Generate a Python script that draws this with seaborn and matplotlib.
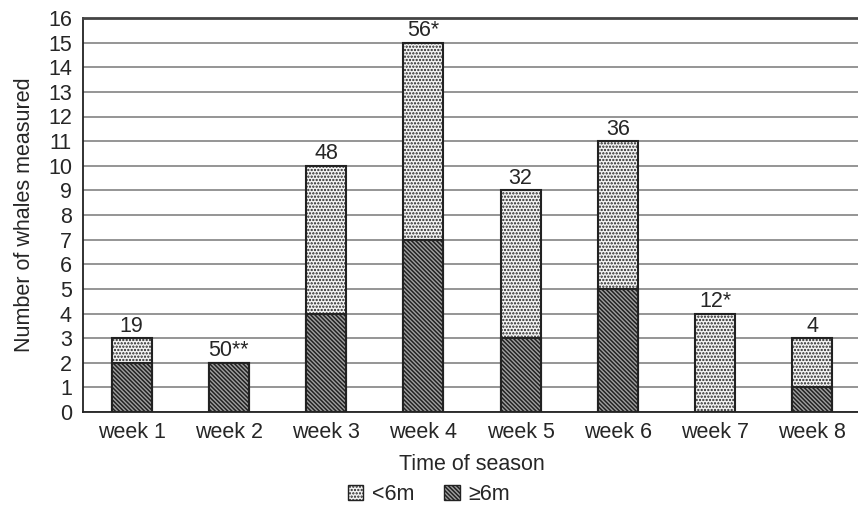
import seaborn as sns
import matplotlib.pyplot as plt
import matplotlib.patches as mpatches
import pandas as pd

weeks = ["week 1", "week 2", "week 3", "week 4", "week 5", "week 6", "week 7", "week 8"]
small = [1, 0, 6, 8, 6, 6, 4, 2]      # <6m
large = [2, 2, 4, 7, 3, 5, 0, 1]      # >=6m
bar_labels = ["19", "50**", "48", "56*", "32", "36", "12*", "4"]

df = pd.DataFrame({"week": weeks, "small": small, "large": large})
df["total"] = df["small"] + df["large"]

sns.set_style("white")
plt.rcParams["font.family"] = ["Liberation Sans", "DejaVu Sans"]
plt.rcParams["hatch.linewidth"] = 1.1

fs = 15.5
dots = "....."
lines = "\\\\\\\\\\\\\\\\"

fig = plt.figure(figsize=(8.58, 5.12), dpi=100)
ax = fig.add_axes([83 / 858, 1 - 412 / 512, 778 / 858, 394 / 512])

# full stack height drawn with the <6m pattern, >=6m drawn on top of it
sns.barplot(data=df, x="week", y="total", ax=ax, color="#f4f4f4",
            edgecolor="#222222", linewidth=1.5, hatch=dots, width=0.41, zorder=3)
sns.barplot(data=df, x="week", y="large", ax=ax, color="#a0a0a0",
            edgecolor="#222222", linewidth=1.5, hatch=lines, width=0.41, zorder=4)

for i, (t, lab) in enumerate(zip(df["total"], bar_labels)):
    ax.text(i, t + 0.06, lab, ha="center", va="bottom", fontsize=fs, zorder=5)

ax.set_xlim(-0.5, 7.5)
ax.set_ylim(0, 16)
ax.set_yticks(range(0, 17))
ax.yaxis.grid(True, color="#8c8c8c", linewidth=1.3, zorder=0)
ax.set_axisbelow(True)

ax.set_xticks([i + 0.5 for i in range(7)], minor=True)
ax.set_xticks(range(8))
ax.set_xticklabels(weeks)
ax.tick_params(axis="x", which="major", length=0, labelsize=fs, pad=7)
ax.tick_params(axis="x", which="minor", length=7, width=1, color="#888888", direction="out")
ax.tick_params(axis="y", length=6, width=1, color="#555555", labelsize=fs, pad=2, direction="out")

for side in ["left", "bottom"]:
    ax.spines[side].set_color("#222222")
    ax.spines[side].set_linewidth(1.3)
ax.spines["top"].set_color("#444444")
ax.spines["top"].set_linewidth(2)
ax.spines["right"].set_visible(False)

ax.set_xlabel("Time of season", fontsize=fs, labelpad=8)
ax.set_ylabel("Number of whales measured", fontsize=fs, labelpad=9)

handles = [
    mpatches.Patch(facecolor="#f4f4f4", edgecolor="#222222", hatch=dots, label="<6m"),
    mpatches.Patch(facecolor="#a0a0a0", edgecolor="#222222", hatch=lines, label="≥6m"),
]
fig.legend(handles=handles, loc="center", bbox_to_anchor=(0.5, 0.035), ncol=2,
           frameon=False, fontsize=fs, handlelength=0.7, handleheight=0.7,
           handletextpad=0.4, columnspacing=1.4)

fig.savefig("out.png", dpi=100)
